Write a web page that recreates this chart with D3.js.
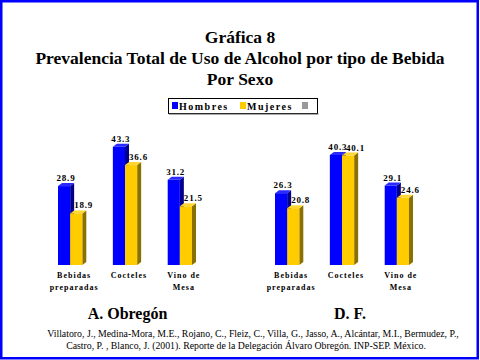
<!DOCTYPE html>
<meta charset="utf-8">
<style>
  body { margin: 0; background: #fff; }
  svg text { font-family: "Liberation Serif", "DejaVu Serif", "Times New Roman", Times, serif; }
  .title { font-size: 17.5px; font-weight: bold; text-anchor: middle; }
  .val { font-size: 9px; font-weight: bold; letter-spacing: 0.8px; }
  .cat { font-size: 8px; font-weight: bold; letter-spacing: 1px; text-anchor: middle; }
  .panel { font-size: 16px; font-weight: bold; text-anchor: middle; }
  .legend { font-size: 10px; font-weight: bold; letter-spacing: 1.5px; }
  .cite { font-size: 9.8px; text-anchor: middle; }
</style>
<body>
<script src="https://cdn.jsdelivr.net/npm/d3@7"></script>
<script>
// data
var categories = [["Bebidas", "preparadas"], ["Cocteles"], ["Vino de", "Mesa"]];
var series = ["Hombres", "Mujeres"];
var obregon = { Hombres: [28.9, 43.3, 31.2], Mujeres: [18.9, 36.6, 21.5] };
var df = { Hombres: [26.3, 40.3, 29.1], Mujeres: [20.8, 40.1, 24.6] };
var titleLines = ["Gráfica 8", "Prevalencia Total de Uso de Alcohol por tipo de Bebida", "Por Sexo"];
var citeLines = ["Villatoro, J., Medina-Mora, M.E., Rojano, C., Fleiz, C., Villa, G., Jasso, A., Alcántar, M.I., Bermudez, P.,",
                 "Castro, P. , Blanco, J. (2001). Reporte de la Delegación Álvaro Obregón. INP-SEP. México."];

var width = 480, height = 360;
var serif = "'Liberation Serif', 'DejaVu Serif', 'Times New Roman', Times, serif";
var colors = { Hombres: "#0000ff", Mujeres: "#ffcc00" };
var sides = { Hombres: "#000088", Mujeres: "#8a7000" };
var tops = { Hombres: "#2a2aff", Mujeres: "#ffd633" };
var depthX = 4, depthY = 3;

var svg = d3.select("body").append("svg")
    .attr("width", width)
    .attr("height", height)
    .attr("font-family", serif)
    .style("font-family", serif);

// blue frame
svg.append("rect")
    .attr("x", 1.25).attr("y", 1.25)
    .attr("width", width - 3.5).attr("height", height - 3)
    .attr("fill", "#fff")
    .attr("stroke", "#0000ff")
    .attr("stroke-width", 2.5);

svg.selectAll(".title")
    .data(titleLines)
  .enter().append("text")
    .attr("class", "title")
    .attr("x", 240)
    .attr("y", function(d, i) { return 43 + i * 21; })
    .text(function(d) { return d; });

// legend
var legend = svg.append("g");
legend.append("rect")
    .attr("x", 168.5).attr("y", 98.5)
    .attr("width", 149).attr("height", 15)
    .attr("fill", "none")
    .attr("stroke", "#000")
    .attr("stroke-width", 1);
legend.append("line")
    .attr("x1", 169).attr("x2", 318.5).attr("y1", 114).attr("y2", 114)
    .attr("stroke", "#555").attr("stroke-width", 1);
var legendItems = [
  { name: "Hombres", color: colors.Hombres, x: 172 },
  { name: "Mujeres", color: colors.Mujeres, x: 240 },
  { name: "", color: "#999999", x: 302 }
];
legend.selectAll(".sw")
    .data(legendItems)
  .enter().append("rect")
    .attr("x", function(d) { return d.x; })
    .attr("y", 102)
    .attr("width", 6).attr("height", 7)
    .attr("fill", function(d) { return d.color; });
legend.selectAll(".legend")
    .data(legendItems)
  .enter().append("text")
    .attr("class", "legend")
    .attr("x", function(d) { return d.x + 7; })
    .attr("y", 109.5)
    .text(function(d) { return d.name; });

var y = d3.scaleLinear().domain([0, 50]).range([265, 128.5]);

function drawPanel(data, x0, label, labelX) {
  var g = svg.append("g");
  var x = d3.scaleBand()
      .domain(d3.range(categories.length))
      .range([x0, x0 + 134])
      .paddingInner(0.557)
      .paddingOuter(0);
  var xs = d3.scaleBand()
      .domain(series)
      .range([0, x.bandwidth()]);

  // Hombres first so Mujeres covers its side face
  series.forEach(function(s, si) {
    data[s].forEach(function(v, ci) {
      var bx = x(ci) + xs(s), bw = xs.bandwidth(), by = y(v), b0 = y(0);
      // side
      g.append("path")
          .attr("d", "M" + (bx + bw) + "," + b0 + "L" + (bx + bw) + "," + by +
                "L" + (bx + bw + depthX) + "," + (by - depthY) +
                "L" + (bx + bw + depthX) + "," + (b0 - depthY) + "Z")
          .attr("fill", sides[s]);
      // top
      g.append("path")
          .attr("d", "M" + bx + "," + by + "L" + (bx + depthX) + "," + (by - depthY) +
                "L" + (bx + bw + depthX) + "," + (by - depthY) + "L" + (bx + bw) + "," + by + "Z")
          .attr("fill", tops[s]);
      // front
      g.append("rect")
          .attr("x", bx).attr("y", by)
          .attr("width", bw).attr("height", b0 - by)
          .attr("fill", colors[s]);
    });
  });

  series.forEach(function(s, si) {
    g.selectAll(".val-" + s)
        .data(data[s])
      .enter().append("text")
        .attr("class", "val")
        .attr("x", function(d, ci) { return x(ci) + xs(s) + (si ? 4 : -1.5); })
        .attr("y", function(d) { return y(d) - 5; })
        .text(function(d) { return d.toFixed(1); });
  });

  var cats = g.selectAll(".cat")
      .data(categories)
    .enter().append("text")
      .attr("class", "cat")
      .attr("x", function(d, ci) { return x(ci) + x.bandwidth() / 2 + depthX; })
      .attr("y", 278);
  cats.selectAll("tspan")
      .data(function(d) { return d; })
    .enter().append("tspan")
      .attr("x", function() { return d3.select(this.parentNode).attr("x"); })
      .attr("dy", function(d, i) { return i ? 12 : 0; })
      .text(function(d) { return d; });

  svg.append("text")
      .attr("class", "panel")
      .attr("x", labelX)
      .attr("y", 319)
      .text(label);
}

drawPanel(obregon, 58, "A. Obregón", 127.5);
drawPanel(df, 275, "D. F.", 350);

svg.selectAll(".cite")
    .data(citeLines)
  .enter().append("text")
    .attr("class", "cite")
    .attr("x", function(d, i) { return i ? 246 : 253; })
    .attr("y", function(d, i) { return 337 + i * 12; })
    .text(function(d) { return d; });
</script>
</body>
